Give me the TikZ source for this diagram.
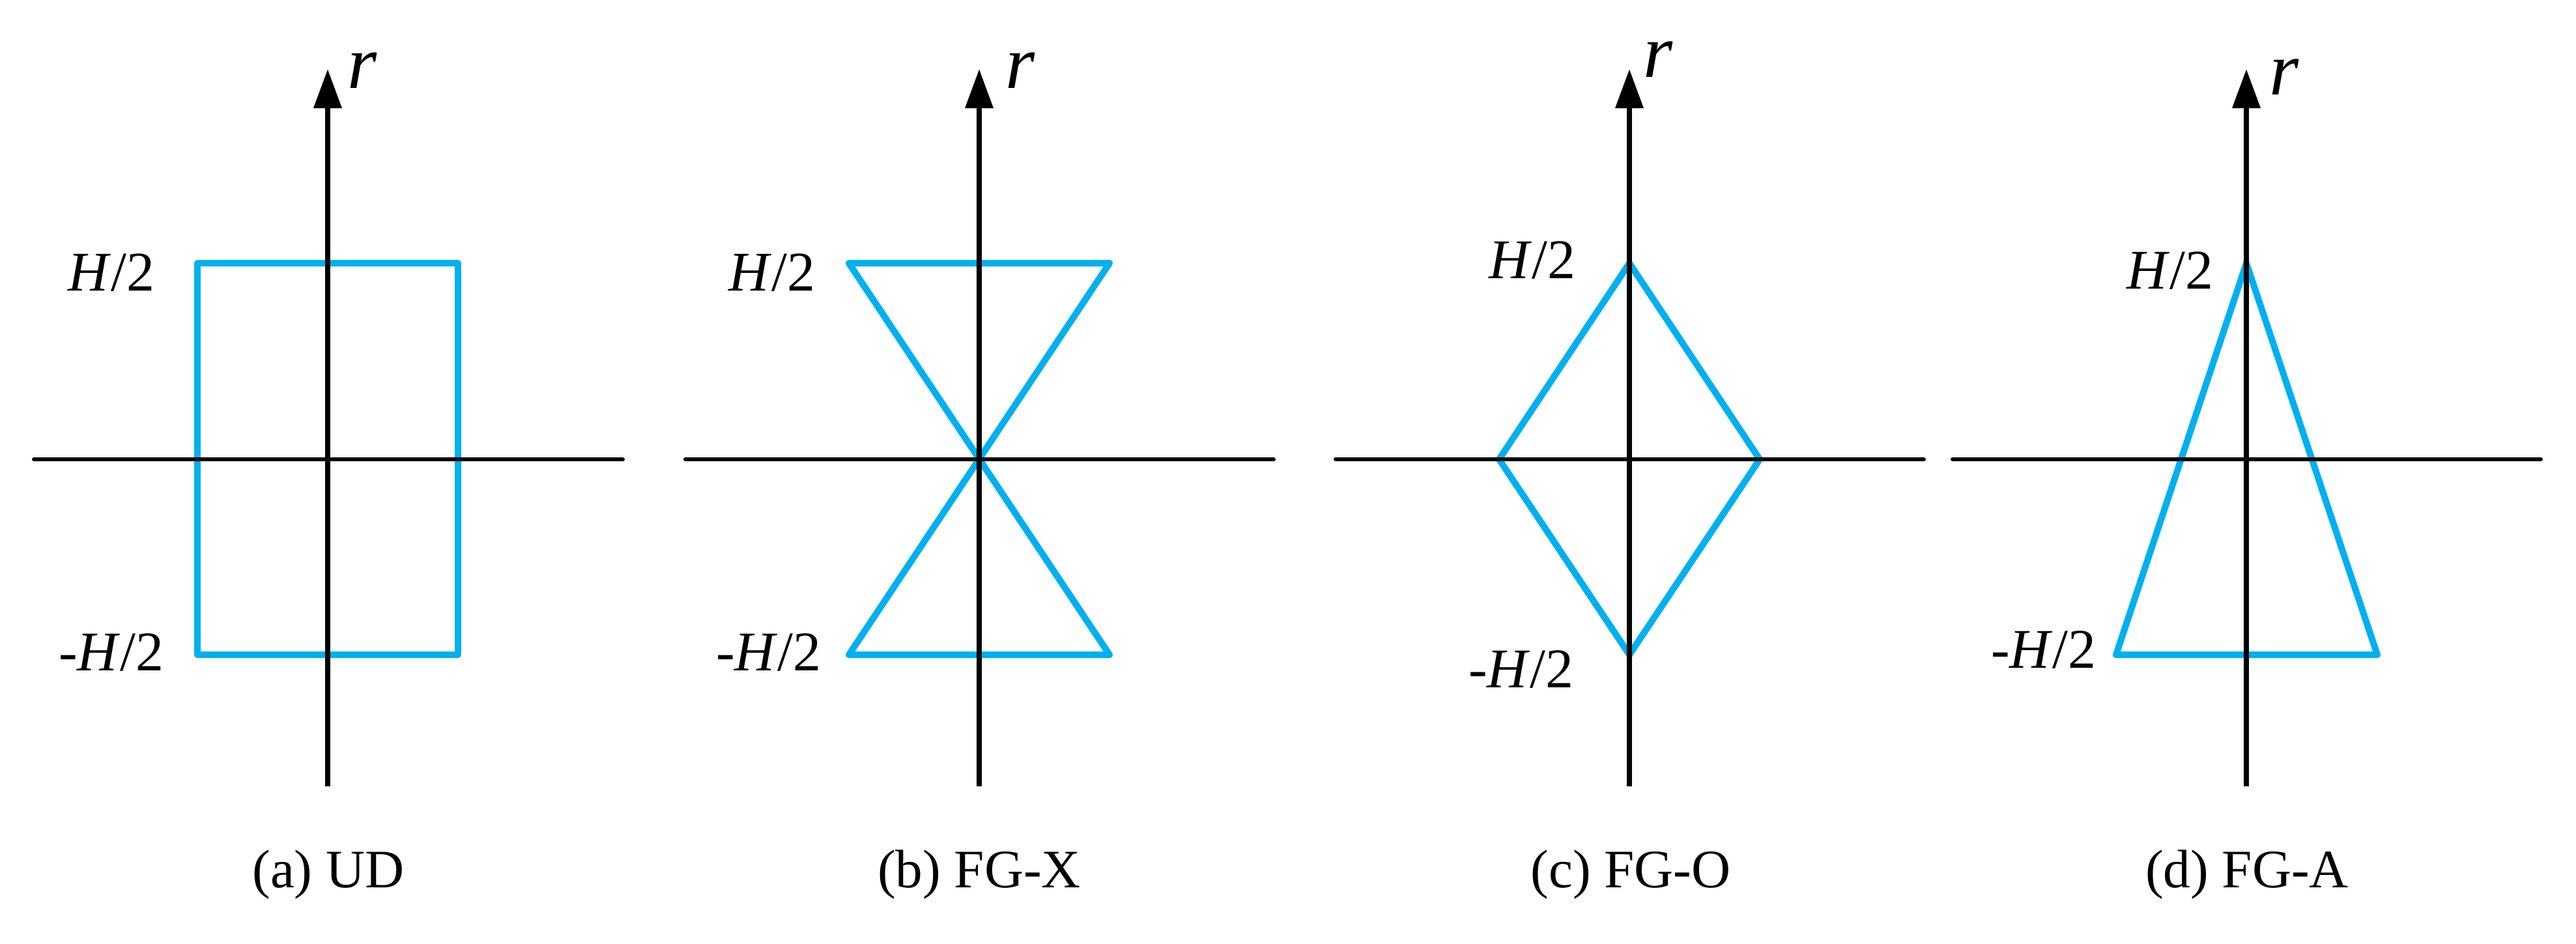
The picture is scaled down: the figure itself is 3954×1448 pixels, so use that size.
\documentclass[tikz,border=0pt]{standalone}
\usepackage{fontspec}
\setmainfont{Liberation Serif}
\usetikzlibrary{arrows.meta}
\definecolor{shapeblue}{HTML}{00B0F0}
\tikzset{
  x=0.25pt,y=-0.25pt,
  vaxis/.style={draw=black,line width=2pt,-{Triangle[length=15pt,width=10.4pt]}},
  haxis/.style={draw=black,line width=1.5pt,line cap=round},
  profile/.style={draw=shapeblue,line width=2.5pt,line join=round},
  htext/.style={inner sep=0pt,anchor=base,font=\fontsize{21.5}{21.5}\selectfont},
  rtext/.style={inner sep=0pt,anchor=base,font=\fontsize{29}{29}\selectfont\itshape},
  captext/.style={inner sep=0pt,anchor=base,font=\fontsize{20.8}{21}\selectfont},
}
\begin{document}
\begin{tikzpicture}
\useasboundingbox (0,0) rectangle (3954,1448);
% panel a
\coordinate (aT) at (503,106);\coordinate (aB) at (503,1207);
\coordinate (aL) at (52,705);\coordinate (aR) at (956,705);
\coordinate (a1) at (303,404);\coordinate (a2) at (703,404);
\coordinate (a3) at (703,1005);\coordinate (a4) at (303,1005);
\draw[profile] (a1) -- (a2) -- (a3) -- (a4) -- cycle;
\draw[haxis] (aL) -- (aR);
\draw[vaxis] (aB) -- (aT);
\node[rtext] (ar) at (556,135) {r};
\node[htext] (ah) at (171,446) {\textit{H}/2};
\node[htext] (al) at (171,1029) {-\textit{H}/2};
\node[captext] (ac) at (504,1362) {(a) UD};
% panel b
\coordinate (bT) at (1503,106);\coordinate (bB) at (1503,1207);
\coordinate (bL) at (1052,705);\coordinate (bR) at (1955,705);
\coordinate (b1) at (1303,404);\coordinate (b2) at (1703,404);
\coordinate (b3) at (1303,1005);\coordinate (b4) at (1703,1005);
\draw[profile] (b1) -- (b2) -- (b3) -- (b4) -- cycle;
\draw[haxis] (bL) -- (bR);
\draw[vaxis] (bB) -- (bT);
\node[rtext] (br) at (1566,135) {r};
\node[htext] (bh) at (1185,446) {\textit{H}/2};
\node[htext] (bl) at (1180,1029) {-\textit{H}/2};
\node[captext] (bc) at (1503,1362) {(b) FG-X};
% panel c
\coordinate (cT) at (2501,106);\coordinate (cB) at (2501,1207);
\coordinate (cL) at (2050,705);\coordinate (cR) at (2953,705);
\coordinate (c1) at (2501,404);\coordinate (c2) at (2701,705);
\coordinate (c3) at (2501,1005);\coordinate (c4) at (2301,705);
\draw[profile] (c1) -- (c2) -- (c3) -- (c4) -- cycle;
\draw[haxis] (cL) -- (cR);
\draw[vaxis] (cB) -- (cT);
\node[rtext] (cr) at (2545,118) {r};
\node[htext] (ch) at (2352,427) {\textit{H}/2};
\node[htext] (cl) at (2335,1055) {-\textit{H}/2};
\node[captext] (cc) at (2503,1362) {(c) FG-O};
% panel d
\coordinate (dT) at (3448,106);\coordinate (dB) at (3448,1207);
\coordinate (dL) at (2997,705);\coordinate (dR) at (3900,705);
\coordinate (d1) at (3448,404);\coordinate (d2) at (3649,1005);\coordinate (d3) at (3248,1005);
\draw[profile] (d1) -- (d2) -- (d3) -- cycle;
\draw[haxis] (dL) -- (dR);
\draw[vaxis] (dB) -- (dT);
\node[rtext] (dr) at (3506,145) {r};
\node[htext] (dh) at (3331,443) {\textit{H}/2};
\node[htext] (dl) at (3137,1025) {-\textit{H}/2};
\node[captext] (dc) at (3449,1362) {(d) FG-A};
\end{tikzpicture}
\end{document}
